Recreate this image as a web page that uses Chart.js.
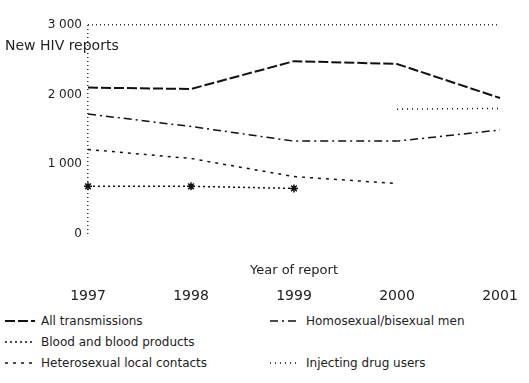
<!DOCTYPE html>
<html>
<head>
<meta charset="utf-8">
<script src="https://cdn.jsdelivr.net/npm/chart.js@4/dist/chart.umd.min.js"></script>
<style>
  html, body { margin: 0; padding: 0; background: #fff; }
  #wrap { position: relative; width: 529px; height: 309px; }
  #legend { font-family: "DejaVu Sans", sans-serif; font-size: 12px; color: #222; width: 529px; }
  .row { position: relative; height: 21px; }
  .item { position: absolute; top: 0; display: flex; align-items: center; white-space: nowrap; }
  .item svg { margin-right: 6px; }
</style>
</head>
<body>
<div id="wrap"><canvas id="c" width="529" height="309"></canvas></div>
<div id="legend"></div>
<script>
const years = ["1997", "1998", "1999", "2000", "2001"];
const yTicks = [0, 1000, 2000, 3000];
const yTickLabels = ["0", "1 000", "2 000", "3 000"];
const seriesNames = ["All transmissions", "Homosexual/bisexual men", "Blood and blood products", "Heterosexual local contacts", "Injecting drug users"];
const allTransmissions = [2100, 2080, 2480, 2440, 1950];
const homosexualMen = [1720, 1540, 1330, 1330, 1490];
const bloodProducts = [680, 680, 650, null, null];
const heterosexualLocal = [1210, 1080, 820, 720, null];
const injectingDrugUsers = [null, null, null, 1790, 1800];

const styles = [
  { dash: [10, 3], width: 2, point: false },
  { dash: [8, 4, 2, 4], width: 1.5, point: false },
  { dash: [2, 3], width: 1.5, point: true },
  { dash: [3, 5], width: 1.5, point: false },
  { dash: [1, 4], width: 1.5, point: false }
];
const dataArrays = [allTransmissions, homosexualMen, bloodProducts, heterosexualLocal, injectingDrugUsers];

const datasets = dataArrays.map((d, i) => ({
  label: seriesNames[i],
  data: d,
  xAxisID: "x",
  borderColor: "#111",
  backgroundColor: "#111",
  borderWidth: styles[i].width,
  borderDash: styles[i].dash,
  pointRadius: styles[i].point ? 4 : 0,
  pointStyle: "star",
  pointBorderWidth: 1.5,
  tension: 0,
  fill: false
}));

const yTitlePlugin = {
  id: "yTitle",
  afterDraw(chart) {
    const ctx = chart.ctx;
    ctx.save();
    ctx.font = "14px 'DejaVu Sans', sans-serif";
    ctx.fillStyle = "#222";
    ctx.textBaseline = "middle";
    ctx.textAlign = "left";
    ctx.fillText("New HIV reports", 5, 46);
    ctx.restore();
  }
};

new Chart(document.getElementById("c"), {
  type: "line",
  data: { labels: years, datasets },
  options: {
    responsive: false,
    animation: false,
    layout: { padding: { top: 25, right: 29, left: 0, bottom: 4 } },
    plugins: { legend: { display: false }, tooltip: { enabled: false } },
    scales: {
      x: {
        offset: false,
        weight: 0,
        grid: {
          color: (c) => (c.index === 0 ? "#333" : "rgba(0,0,0,0)"),
          lineWidth: 1.5,
          drawTicks: false
        },
        border: { display: false, dash: [1, 3] },
        ticks: { display: false },
        title: { display: true, text: "Year of report", color: "#222", font: { family: "DejaVu Sans", size: 13 }, padding: { top: 29, bottom: 2 } }
      },
      x2: {
        type: "category",
        labels: years,
        position: "bottom",
        offset: false,
        weight: 1,
        grid: { display: false },
        border: { display: false },
        ticks: { color: "#222", font: { family: "DejaVu Sans", size: 14 }, padding: 0 }
      },
      y: {
        min: 0,
        max: 3000,
        afterBuildTicks: (s) => { s.ticks = yTicks.map(v => ({ value: v })); },
        afterFit: (s) => { s.width = 88; },
        grid: {
          color: (c) => (c.tick && c.tick.value === 3000 ? "#333" : "rgba(0,0,0,0)"),
          lineWidth: 1.5,
          drawTicks: false
        },
        border: { display: false, dash: [1, 3] },
        ticks: {
          color: "#222",
          font: { family: "DejaVu Sans", size: 12 },
          padding: 6,
          callback: (v) => { const i = yTicks.indexOf(v); return i >= 0 ? yTickLabels[i] : ""; }
        }
      }
    }
  },
  plugins: [yTitlePlugin]
});

// HTML legend
function sample(i) {
  const s = styles[i];
  return '<svg width="30" height="10"><line x1="0" y1="5" x2="30" y2="5" stroke="#111" stroke-width="' + s.width +
    '" stroke-dasharray="' + s.dash.join(",") + '"/></svg>';
}
const rows = [
  [[0, 5], [1, 270]],
  [[2, 5]],
  [[3, 5], [4, 270]]
];
const legend = document.getElementById("legend");
legend.style.marginTop = "5px";
rows.forEach(r => {
  const row = document.createElement("div");
  row.className = "row";
  r.forEach(([i, x]) => {
    const it = document.createElement("div");
    it.className = "item";
    it.style.left = x + "px";
    it.innerHTML = sample(i) + "<span>" + seriesNames[i] + "</span>";
    row.appendChild(it);
  });
  legend.appendChild(row);
});
</script>
</body>
</html>
